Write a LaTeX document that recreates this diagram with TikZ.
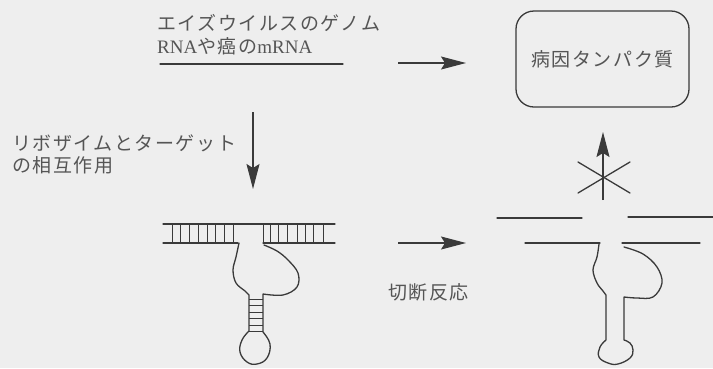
\documentclass[tikz,border=0pt]{standalone}
\usepackage{fontspec}
\setmainfont{Liberation Serif}
\newfontfamily\jp[LetterSpace=8]{Noto Sans CJK JP}
\usetikzlibrary{arrows.meta}

\definecolor{paper}{HTML}{EEEEEE}
\definecolor{ink}{HTML}{3A3A3A}
\definecolor{txt}{HTML}{555555}

\tikzset{
  strand/.style={draw=ink, line width=1.3pt, line cap=round, line join=round},
  rung/.style={draw=ink, line width=1pt},
  flow/.style={draw=ink, line width=1.3pt, -{Stealth[length=25pt,width=13pt,inset=4pt]}},
  label/.style={text=txt, font=\jp\fontsize{19}{21}\selectfont, inner sep=0pt, anchor=base west},
  protein/.style={draw=ink, line width=1.3pt, rounded corners=18pt, minimum width=173pt,
    minimum height=96pt, text=txt, font=\jp\fontsize{19}{21}\selectfont},
}

\begin{document}
\begin{tikzpicture}[x=1pt, y=-1pt]
\useasboundingbox[fill=paper] (0,0) rectangle (713,368);

% --- top row: target RNA and the protein it codes for
\node[label] (title1) at (157,30) {エイズウイルスのゲノム};
\node[label] (title2) at (157,53) {{\rmfamily\fontsize{19}{21}\selectfont RNA}や癌の{\rmfamily\fontsize{19}{21}\selectfont mRNA}};
\draw[strand] (160,64) -- (343,64);

\coordinate (a1s) at (398,63);
\coordinate (a1e) at (466,63);
\draw[flow] (a1s) -- (a1e);

\node[protein] (prot) at (602.5,59) {病因タンパク質};

% --- ribozyme binding to the target
\node[label] (bind1) at (12,150) {リボザイムとターゲット};
\node[label] (bind2) at (12,172) {の相互作用};
\coordinate (a2s) at (253,112);
\coordinate (a2e) at (253,189);
\draw[flow] (a2s) -- (a2e);

% target strand
\draw[strand] (163,224) -- (335,224);
% ribozyme arms paired with the target
\draw[strand] (163,243) -- (238,243);
\draw[strand] (263,243) -- (335,243);
\foreach \x in {172,180,189,198,207,215,224,233}
  \draw[rung] (\x,224) -- (\x,243);
\foreach \x in {263,270,278,287,297,305,313,323}
  \draw[rung] (\x,224) -- (\x,243);
% ribozyme core, stem and loop
\draw[strand] plot[smooth, tension=0.6] coordinates {(239,243) (236,257) (233,270) (236,283) (245,291) (249,295)}
  -- (249,331)
  plot[smooth, tension=0.7] coordinates {(249,331) (242,340) (240,352) (247,362) (257,364) (267,358) (270,344) (263,332)}
  -- (263,294)
  plot[smooth, tension=0.6] coordinates {(263,294) (283,295) (297,287) (298,273) (288,260) (277,251) (264,245)};
\foreach \y in {299,305.5,312,318.5,325,331}
  \draw[rung] (249,\y) -- (263,\y);

% --- cleavage
\coordinate (a3s) at (398,243);
\coordinate (a3e) at (466,243);
\draw[flow] (a3s) -- (a3e);
\node[label] (cut) at (388,299) {切断反応};

% cleaved target strand
\draw[strand] (497,218) -- (582,218);
\draw[strand] (628,217) -- (713,217);
% ribozyme released
\draw[strand] (525,243) -- (600,243);
\draw[strand] (622,243) -- (700,243);
\draw[strand] plot[smooth, tension=0.6] coordinates {(599,244) (597,257) (593,270) (597,283) (603,291) (606,295)}
  -- (606,340)
  plot[smooth, tension=0.7] coordinates {(606,340) (600,347) (599,357) (608,363) (618,364) (630,358) (633,350) (630,343) (624,340)}
  -- (624,297)
  plot[smooth, tension=0.6] coordinates {(624,297) (637,298) (653,297) (662,283) (657,267) (643,254) (624,247)};

% no protein made: blocked arrow
\coordinate (a4s) at (603,200);
\coordinate (a4e) at (603,132);
\draw[flow] (a4s) -- (a4e);
\coordinate (xc) at (604,177);
\draw[strand] (578,162) -- (630,193);
\draw[strand] (578,193) -- (630,162);
\end{tikzpicture}
\end{document}
